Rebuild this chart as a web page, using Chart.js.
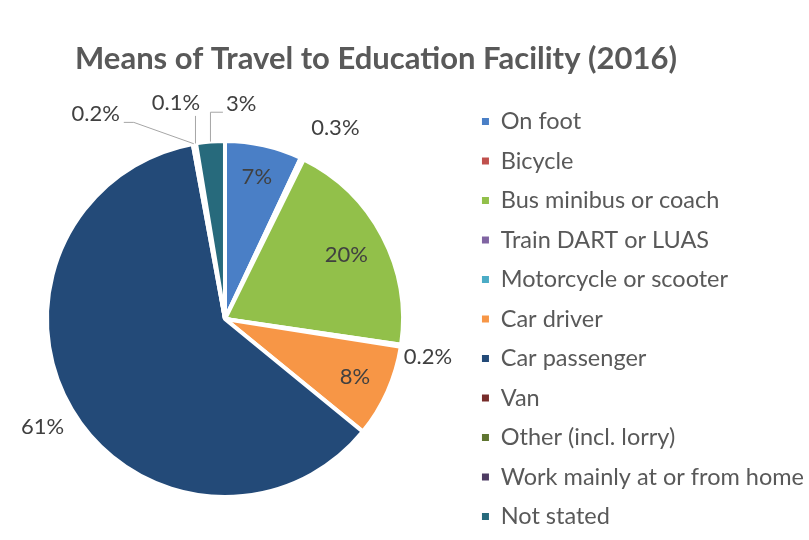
<!DOCTYPE html>
<html lang="en">
<head>
  <meta charset="UTF-8" />
  <title>Means of Travel to Education Facility (2016)</title>
  <script src="https://cdn.jsdelivr.net/npm/chart.js"></script>
  <style>
    body {
      margin: 0;
      background: #fff;
    }

    .frame {
      position: relative;
      width: 809px;
      height: 540px;
      overflow: hidden;
    }

    /* canvas runs a little past the frame so the pie can sit further left */
    .chart-box {
      position: absolute;
      left: -16px;
      top: 0;
      width: 834px;
      height: 550px;
    }
  </style>
</head>
<body>
  <div class="frame">
    <div class="chart-box"><canvas id="travelPie"></canvas></div>
  </div>

  <script>
    const chartTitle = 'Means of Travel to Education Facility (2016)';

    const modes = [
      'On foot',
      'Bicycle',
      'Bus minibus or coach',
      'Train DART or LUAS',
      'Motorcycle or scooter',
      'Car driver',
      'Car passenger',
      'Van',
      'Other (incl. lorry)',
      'Work mainly at or from home',
      'Not stated'
    ];

    // share of students, percent
    const shares = [7, 0.3, 20, 0.2, 0, 8.4, 61.2, 0.2, 0.1, 0, 2.6];

    const sliceColors = [
      '#4a7fc6', '#c0504d', '#92c04a', '#8064a2', '#4bacc6', '#f79646',
      '#234a78', '#772c2a', '#5f7530', '#4d3b62', '#276a7c'
    ];

    // where each value label sits: r = distance in radii, at = degrees clockwise from 12 o'clock
    const labelPlace = [
      { r: 0.82 },
      { r: 1.24, at: 30 },
      { r: 0.77 },
      { r: 1.16, at: 100.5 },
      null,
      { r: 0.8 },
      { r: 1.19 },
      { r: 1.36, at: 327.7, leader: 'side' },
      { r: 1.245, at: 347.2, leader: 'below' },
      null,
      { r: 1.21, at: 4.3, leader: 'elbow' }
    ];

    const fmtShare = v => (v < 1 ? v.toFixed(1) : Math.round(v)) + '%';

    const titlePlugin = {
      id: 'plainTitle',
      afterDraw(chart) {
        const ctx = chart.ctx;
        ctx.save();
        ctx.font = 'bold 31px Lato';
        ctx.fillStyle = '#595959';
        ctx.textAlign = 'center';
        ctx.textBaseline = 'middle';
        ctx.fillText(chartTitle, 392, 59);
        ctx.restore();
      }
    };

    const valueLabels = {
      id: 'valueLabels',
      afterDatasetsDraw(chart) {
        const ctx = chart.ctx;
        const arcs = chart.getDatasetMeta(0).data;
        ctx.save();
        ctx.font = '22px Lato';
        ctx.fillStyle = '#404040';
        ctx.textAlign = 'center';
        ctx.textBaseline = 'middle';
        ctx.strokeStyle = '#a6a6a6';
        ctx.lineWidth = 1;

        arcs.forEach((arc, i) => {
          const place = labelPlace[i];
          if (!place || !shares[i]) return;
          const { x, y, startAngle, endAngle, outerRadius } = arc.getProps(
            ['x', 'y', 'startAngle', 'endAngle', 'outerRadius'], true);
          const mid = (startAngle + endAngle) / 2;
          const ang = place.at !== undefined ? (place.at - 90) * Math.PI / 180 : mid;
          const lx = x + Math.cos(ang) * outerRadius * place.r;
          const ly = y + Math.sin(ang) * outerRadius * place.r;
          const text = fmtShare(shares[i]);
          const w = ctx.measureText(text).width;

          if (place.leader) {
            const ex = x + Math.cos(mid) * outerRadius;
            const ey = y + Math.sin(mid) * outerRadius;
            ctx.beginPath();
            ctx.moveTo(ex, ey);
            if (place.leader === 'below') {
              ctx.lineTo(ex, ly + 13);
            } else if (place.leader === 'elbow') {
              ctx.lineTo(ex, ly + 8);
              ctx.lineTo(lx - w / 2 - 3, ly + 8);
            } else {
              ctx.lineTo(lx + w / 2 + 14, ly + 8);
              ctx.lineTo(lx + w / 2 + 4, ly + 8);
            }
            ctx.stroke();
          }
          ctx.fillText(text, lx, ly);
        });
        ctx.restore();
      }
    };

    const pieLegendItems = Chart.overrides.pie.plugins.legend.labels.generateLabels;

    new Chart(document.getElementById('travelPie'), {
      type: 'pie',
      data: {
        labels: modes,
        datasets: [{
          data: shares,
          backgroundColor: sliceColors,
          borderColor: '#ffffff',
          borderWidth: 4,
          radius: 178
        }]
      },
      options: {
        responsive: true,
        maintainAspectRatio: false,
        animation: false,
        layout: { padding: { top: 88, bottom: 0, left: 0, right: 4 } },
        plugins: {
          title: { display: false },
          tooltip: { enabled: false },
          legend: {
            position: 'right',
            align: 'center',
            labels: {
              boxWidth: 7,
              boxHeight: 7,
              padding: 16,
              color: '#595959',
              font: { family: 'Lato', size: 23.5 },
              // plain filled squares, without the white slice border
              generateLabels: chart => pieLegendItems(chart).map(item => ({ ...item, lineWidth: 0 }))
            }
          }
        }
      },
      plugins: [titlePlugin, valueLabels]
    });
  </script>
</body>
</html>
